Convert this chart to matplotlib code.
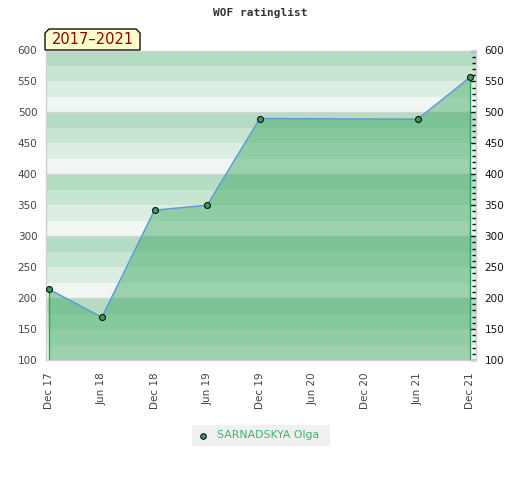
import matplotlib
matplotlib.use("Agg")
import matplotlib.pyplot as plt
from matplotlib.patches import Polygon, Rectangle
from matplotlib.ticker import MultipleLocator

# ---- data ----
tick_labels = ["Dec 17", "Jun 18", "Dec 18", "Jun 19", "Dec 19", "Jun 20", "Dec 20", "Jun 21", "Dec 21"]
point_idx = [0, 1, 2, 3, 4, 7, 8]
ratings = [214, 169, 342, 350, 490, 489, 557]
player = "SARNADSKYA Olga"
period = "2017\u20132021"
title = "WOF ratinglist"

band_edges = [0, 25, 50, 75]
band_colors = ["#f0f7f3", "#dceee3", "#c6e6d2", "#b3dcc3"]
block_starts = [100, 200, 300, 400, 500]

W, H = 520, 480
fig = plt.figure(figsize=(W / 100, H / 100), dpi=100)
ax = fig.add_axes([45.7 / W, 1 - 360 / H, (476 - 45.7) / W, (360 - 50.5) / H])

ax.set_xlim(-0.068, 8.108)
ax.set_ylim(100, 600)

# background bands
for b in block_starts:
    for e, c in zip(band_edges, band_colors):
        ax.axhspan(b + e, b + e + 25, color=c, lw=0, zorder=0)
for b in block_starts[1:]:
    ax.axhline(b, color="#d4d4d4", lw=1, zorder=0.5)

# area fill
ax.fill_between(point_idx, ratings, 100, color="#3da762", alpha=0.475, lw=0, zorder=1)
ax.vlines([point_idx[0], point_idx[-1]], 100, [ratings[0], ratings[-1]], color="#2ea451", lw=1, zorder=2)
ax.plot(point_idx, ratings, color="#5b9bd5", lw=1.1, zorder=3)
ax.plot(point_idx, ratings, ls="none", marker="o", ms=4.3, mfc="#3a9d5d", mec="#111111", mew=0.8, zorder=4)

# axes styling
for s in ax.spines.values():
    s.set_color("#d0d0d0")
    s.set_linewidth(1)
ax.set_xticks(range(len(tick_labels)))
ax.set_xticklabels(tick_labels, rotation=90, fontsize=7.5, color="#444444")
ax.tick_params(axis="x", length=0, pad=9)
ax.yaxis.set_major_locator(MultipleLocator(50))
ax.yaxis.set_minor_locator(MultipleLocator(10))
ax.tick_params(axis="y", which="both", left=False, right=True, labelleft=True, labelright=True,
               direction="in", labelsize=7.5, pad=6)
ax.tick_params(axis="y", which="major", length=4, width=1, color="#111111")
ax.tick_params(axis="y", which="minor", length=3, width=1, color="#111111")
for t in ax.yaxis.get_major_ticks():
    t.label1.set_color("#444444")
    t.label2.set_color("#111111")

# title
fig.text(260 / W, 1 - 13 / H, title, ha="center", va="center", fontsize=8,
         family="DejaVu Sans Mono", fontweight="bold", color="#333333")

# period box (chamfered top corners) in pixel coords
x0, x1, y0, y1, c = 45, 140, 480 - 50, 480 - 29, 4
poly = Polygon([(x0, y0), (x0, y1 - c), (x0 + c, y1), (x1 - c, y1), (x1, y1 - c), (x1, y0)],
               closed=True, transform=None, facecolor="#ffffcc", edgecolor="#111111", lw=1, zorder=10)
fig.patches.append(poly)
fig.text(92.5 / W, 1 - 40 / H, period, ha="center", va="center", fontsize=10.5,
         color="#8b0000", zorder=11)

# legend
leg = Rectangle((192 / W, 1 - 446 / H), 138 / W, 21 / H, transform=fig.transFigure,
                facecolor="#f0f0f0", edgecolor="none", zorder=10)
fig.patches.append(leg)
fig.lines.append(plt.Line2D([203 / W], [1 - 435.5 / H], transform=fig.transFigure, ls="none",
                            marker="o", ms=4, mfc="#3a9d5d", mec="#111111", mew=0.8, zorder=11))
fig.text(217 / W, 1 - 435.5 / H, player, ha="left", va="center", fontsize=7.8,
         color="#3cb36e", zorder=11)

fig.savefig("out.png", dpi=100)
